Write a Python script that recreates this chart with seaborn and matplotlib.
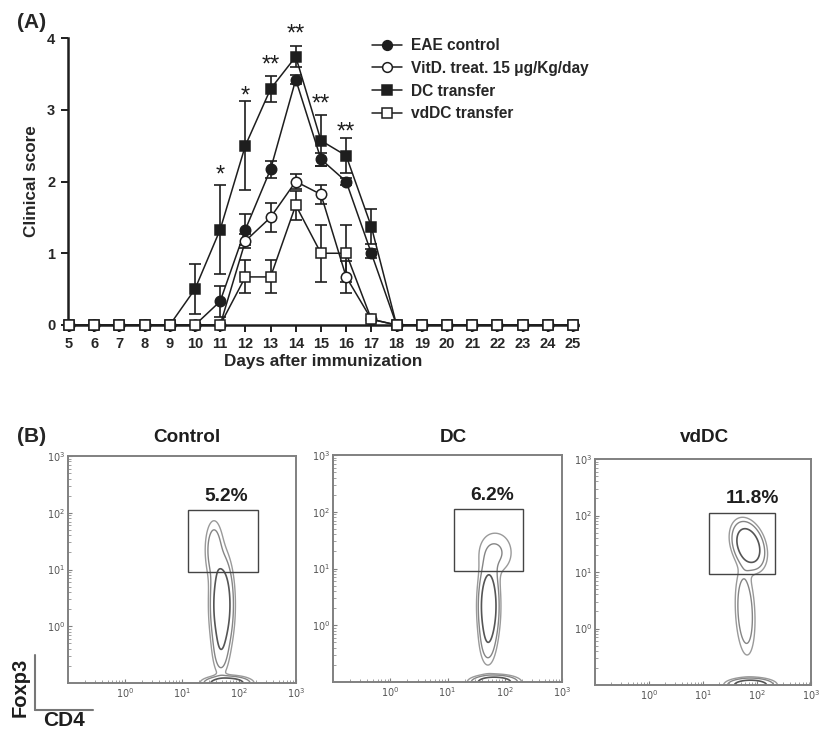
import numpy as np
import pandas as pd
import matplotlib
matplotlib.use("Agg")
import matplotlib.pyplot as plt
import seaborn as sns
from matplotlib.lines import Line2D
from matplotlib.patches import Rectangle
from matplotlib.ticker import LogLocator, NullFormatter

# ---------------- data: panel A ----------------
days = [5, 6, 7, 8, 9, 10, 11, 12, 13, 14, 15, 16, 17, 18, 19, 20, 21, 22, 23, 24, 25]
eae_mean = [0, 0, 0, 0, 0, 0, 0.33, 1.33, 2.17, 3.42, 2.31, 2.0, 1.0, 0, 0, 0, 0, 0, 0, 0, 0]
eae_err = [0, 0, 0, 0, 0, 0, 0.22, 0.22, 0.12, 0.06, 0.09, 0.05, 0.06, 0, 0, 0, 0, 0, 0, 0, 0]
vitd_mean = [0, 0, 0, 0, 0, 0, 0, 1.17, 1.5, 2.0, 1.82, 0.67, 0.08, 0, 0, 0, 0, 0, 0, 0, 0]
vitd_err = [0, 0, 0, 0, 0, 0, 0, 0.1, 0.2, 0.1, 0.13, 0.22, 0, 0, 0, 0, 0, 0, 0, 0, 0]
dc_mean = [0, 0, 0, 0, 0, 0.5, 1.33, 2.5, 3.29, 3.74, 2.57, 2.36, 1.37, 0, 0, 0, 0, 0, 0, 0, 0]
dc_err = [0, 0, 0, 0, 0, 0.35, 0.62, 0.62, 0.18, 0.15, 0.35, 0.24, 0.24, 0, 0, 0, 0, 0, 0, 0, 0]
vddc_mean = [0, 0, 0, 0, 0, 0, 0, 0.67, 0.67, 1.67, 1.0, 1.0, 0.08, 0, 0, 0, 0, 0, 0, 0, 0]
vddc_err = [0, 0, 0, 0, 0, 0, 0, 0.23, 0.23, 0.2, 0.4, 0.4, 0, 0, 0, 0, 0, 0, 0, 0, 0]
series_labels = ["EAE control", "VitD. treat. 15 \u03bcg/Kg/day", "DC transfer", "vdDC transfer"]
star_days = [11, 12, 13, 14, 15, 16]
star_y = [2.09, 3.19, 3.62, 4.05, 3.07, 2.68]
star_text = ["*", "*", "**", "**", "**", "**"]

# ---------------- data: panel B ----------------
flow_titles = ["Control", "DC", "vdDC"]
flow_percent = ["5.2%", "6.2%", "11.8%"]
percent_pos = [(60, 190), (60, 195), (83, 200)]
gate_x = [12.8, 212]
gate_y = [9.2, 113]
# density blobs in log10 space: (cx, cy, sx, sy, weight, rho)
control_blobs = [(1.70, 0.38, 0.10, 0.42, 1.0, 0.0),
                 (1.56, 1.35, 0.09, 0.30, 0.25, 0.0),
                 (1.68, -0.40, 0.08, 0.28, 0.20, 0.0),
                 (1.79, -1.00, 0.20, 0.06, 1.0, 0.0)]
dc_blobs = [(1.72, 0.34, 0.09, 0.37, 1.0, 0.0),
            (1.84, 1.28, 0.20, 0.25, 0.15, 0.0),
            (1.70, -0.30, 0.08, 0.25, 0.15, 0.0),
            (1.82, -1.00, 0.20, 0.06, 1.0, 0.0)]
vddc_blobs = [(1.84, 1.47, 0.15, 0.21, 1.0, -0.3),
              (1.78, 0.30, 0.10, 0.42, 0.32, -0.2),
              (1.88, -1.00, 0.21, 0.06, 1.0, 0.0)]
flow_blobs = [control_blobs, dc_blobs, vddc_blobs]
contour_levels = [0.06, 0.13, 0.37]

# ---------------- style ----------------
sns.set_style("ticks")
plt.rcParams["font.family"] = ["Liberation Sans", "DejaVu Sans"]
plt.rcParams["mathtext.fontset"] = "dejavusans"
ink = "#1e1e1e"

W, H = 824, 730
fig = plt.figure(figsize=(W / 100, H / 100), dpi=100)


def fx(px):
    return px / W


def fy(py):
    return 1 - py / H


# ---------------- panel A ----------------
ax = fig.add_axes([fx(67.7), fy(325), fx(510.3), 287 / H])
markers = ["o", "o", "s", "s"]
filled = [True, False, True, False]
means = [eae_mean, vitd_mean, dc_mean, vddc_mean]
errs = [eae_err, vitd_err, dc_err, vddc_err]
handles = []
for lab, m, e, mk, fl in zip(series_labels, means, errs, markers, filled):
    d = pd.DataFrame({"day": days, "score": m, "err": e})
    de = d[d["err"] > 0]
    ax.errorbar(de["day"], de["score"], yerr=de["err"], fmt="none", ecolor=ink,
                elinewidth=1.2, capsize=4, capthick=1.2, clip_on=False, zorder=2)
    sns.lineplot(data=d, x="day", y="score", ax=ax, color=ink, lw=1.1,
                 marker=mk, markersize=7.5,
                 markerfacecolor=ink if fl else "white",
                 markeredgecolor=ink, markeredgewidth=1.1,
                 clip_on=False, zorder=3)
    handles.append(Line2D([], [], color=ink, lw=1.1, marker=mk, markersize=7,
                          markerfacecolor=ink if fl else "white",
                          markeredgecolor=ink, markeredgewidth=1.1))

for dd, yy, tt in zip(star_days, star_y, star_text):
    ax.text(dd, yy, tt, ha="center", va="center", fontsize=17, color=ink)

ax.set_xlim(4.95, 25.2)
ax.set_ylim(0, 4)
ax.set_xticks(days)
ax.set_xticklabels([str(d) for d in days], fontweight="bold", fontsize=10.5)
ax.set_yticks([0, 1, 2, 3, 4])
ax.set_yticklabels(["0", "1", "2", "3", "4"], fontweight="bold", fontsize=10.5)
ax.tick_params(axis="both", length=5, width=1.4, color=ink, pad=4)
ax.set_xlabel("Days after immunization", fontweight="bold", fontsize=12.3, labelpad=2)
ax.set_ylabel("Clinical score", fontweight="bold", fontsize=12.3, labelpad=6)
sns.despine(ax=ax)
for s in ["left", "bottom"]:
    ax.spines[s].set_linewidth(1.8)
    ax.spines[s].set_color(ink)

fig.legend(handles, series_labels, loc="upper left",
           bbox_to_anchor=(fx(372), fy(38)), bbox_transform=fig.transFigure,
           frameon=False, handlelength=1.9, handletextpad=0.6, labelspacing=0.5,
           borderpad=0, borderaxespad=0, prop={"weight": "bold", "size": 11.2})

fig.text(fx(17), fy(22), "(A)", fontsize=15, fontweight="bold", va="center", ha="left")

# ---------------- panel B ----------------
boxes = [(68, 456, 296, 683), (333, 455, 562, 682), (595, 459, 811, 685)]
title_x = [187, 453, 705]
lx = np.linspace(-1.0, 3.0, 500)
ly = np.linspace(-1.2, 3.0, 520)
LX, LY = np.meshgrid(lx, ly)
grey = "#808080"


def density(blobs):
    Z = np.zeros_like(LX)
    for cx, cy, sx, sy, w, rho in blobs:
        dx = (LX - cx) / sx
        dy = (LY - cy) / sy
        q = (dx ** 2 - 2 * rho * dx * dy + dy ** 2) / (1 - rho ** 2)
        Z += w * np.exp(-0.5 * q)
    return Z


for i, (l, t, r, b) in enumerate(boxes):
    axb = fig.add_axes([fx(l), fy(b), fx(r - l), (b - t) / H])
    axb.set_xscale("log")
    axb.set_yscale("log")
    Z = density(flow_blobs[i])
    axb.contour(10 ** LX, 10 ** LY, Z, levels=contour_levels,
                colors=["#9a9a9a", "#858585", "#555555"], linewidths=[1.0, 1.0, 1.2])
    axb.add_patch(Rectangle((gate_x[0], gate_y[0]), gate_x[1] - gate_x[0], gate_y[1] - gate_y[0],
                            fill=False, ec="#444444", lw=1.0, zorder=4))
    px_, py_ = percent_pos[i]
    axb.text(px_, py_, flow_percent[i], ha="center", va="center", fontsize=13.8,
             fontweight="bold", color=ink)
    axb.set_xlim(0.1, 1000)
    axb.set_ylim(0.1, 1000)
    ticks = [1, 10, 100, 1000]
    labs = [r"$10^{0}$", r"$10^{1}$", r"$10^{2}$", r"$10^{3}$"]
    axb.set_xticks(ticks)
    axb.set_xticklabels(labs)
    axb.set_yticks(ticks)
    axb.set_yticklabels(labs)
    axb.xaxis.set_minor_locator(LogLocator(base=10, subs=np.arange(2, 10)))
    axb.yaxis.set_minor_locator(LogLocator(base=10, subs=np.arange(2, 10)))
    axb.xaxis.set_minor_formatter(NullFormatter())
    axb.yaxis.set_minor_formatter(NullFormatter())
    axb.tick_params(which="major", direction="in", length=3, width=0.8, color=grey,
                    labelsize=7, labelcolor="#555555", pad=2)
    axb.tick_params(which="minor", direction="in", length=2, width=0.7, color="#a0a0a0")
    for s in axb.spines.values():
        s.set_color(grey)
        s.set_linewidth(1.4)
    fig.text(fx(title_x[i]), fy(437), flow_titles[i], ha="center", va="center",
             fontsize=13.6, fontweight="bold", color=ink)

fig.text(fx(17), fy(437), "(B)", fontsize=15, fontweight="bold", va="center", ha="left")

# Foxp3 / CD4 orientation corner
fig.add_artist(Line2D([fx(35), fx(35)], [fy(655), fy(710)], transform=fig.transFigure,
                      color="#777777", lw=1.5))
fig.add_artist(Line2D([fx(35), fx(93)], [fy(710), fy(710)], transform=fig.transFigure,
                      color="#777777", lw=1.5))
fig.text(fx(20), fy(687), "Foxp3", rotation=90, ha="center", va="center",
         fontsize=14.5, fontweight="bold", color=ink)
fig.text(fx(64), fy(721), "CD4", ha="center", va="center",
         fontsize=15, fontweight="bold", color=ink)

fig.savefig("out.png", dpi=100)
